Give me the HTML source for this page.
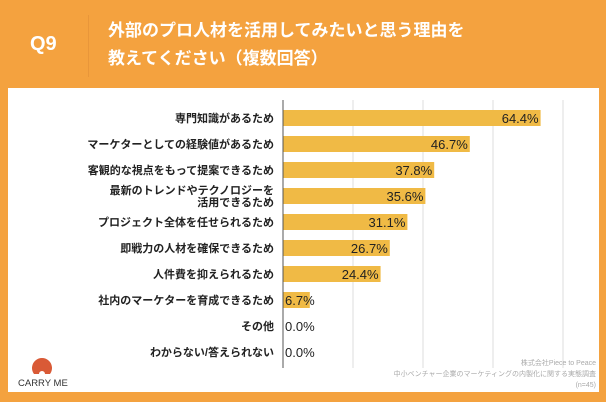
<!DOCTYPE html>
<html><head><meta charset="utf-8"><style>
body{margin:0;width:606px;height:402px;background:#F4A23F;position:relative;overflow:hidden;font-family:"Liberation Sans","Noto Sans CJK JP",sans-serif}
.q{position:absolute;left:30px;top:33px;color:#fff;font-size:20px;font-weight:bold}
.div{position:absolute;left:88px;top:15px;width:1px;height:62px;background:#E8963A}
.t{position:absolute;left:108px;top:17px;color:#fff;font-size:17px;font-weight:bold;line-height:28px}
.panel{position:absolute;left:8px;top:88px;width:591px;height:304px;background:#fff}
</style></head><body>
<div class="q">Q9</div>
<div class="div"></div>
<div class="t">外部のプロ人材を活用してみたいと思う理由を<br>教えてください（複数回答）</div>
<div class="panel"></div>
<svg id="c" width="606" height="402" style="position:absolute;left:0;top:0"></svg>
<script>
const categories=["専門知識があるため","マーケターとしての経験値があるため","客観的な視点をもって提案できるため","最新のトレンドやテクノロジーを|活用できるため","プロジェクト全体を任せられるため","即戦力の人材を確保できるため","人件費を抑えられるため","社内のマーケターを育成できるため","その他","わからない/答えられない"];
const values=[64.4,46.7,37.8,35.6,31.1,26.7,24.4,6.7,0.0,0.0];
const ticks=[17.5,35,52.5,70];
const svg=document.getElementById('c');const NS='http://www.w3.org/2000/svg';
const x0=283,xMax=70,w=280;const x=v=>x0+v/xMax*w;const y=i=>118+i*26;
function mk(t,a){const e=document.createElementNS(NS,t);for(const k in a)e.setAttribute(k,a[k]);svg.appendChild(e);return e;}
ticks.forEach(t=>{const l=mk('line',{x1:x(t),x2:x(t),y1:100,y2:368,stroke:'#ddd','stroke-width':1});

});
categories.forEach((c,i)=>{
const r=mk('rect',{x:x0,y:y(i)-8,width:x(values[i])-x0,height:16,fill:'#F0BA45'});


const parts=c.split('|');
const tx=mk('text',{x:274,y:y(i)+4-(parts.length-1)*6,'text-anchor':'end','font-size':'11','font-weight':'bold',fill:'#222'});


parts.forEach((p,j)=>{const s=document.createElementNS(NS,'tspan');s.setAttribute('x',274);if(j)s.setAttribute('dy','12');s.textContent=p;tx.appendChild(s);});
const big=values[i]>15;
const v=mk('text',{x:big?x(values[i])-2:x0+2,y:y(i)+5,'text-anchor':big?'end':'start','font-size':'13',fill:'#222'});
v.textContent=values[i].toFixed(1)+'%';


});
const ax=mk('line',{x1:x0,x2:x0,y1:100,y2:368,stroke:'#555','stroke-width':1});


</script>
<svg width="24" height="20" style="position:absolute;left:30px;top:356px"><path d="M4 18 A10 10 0 1 1 20 18 L15 18 A3 3 0 1 0 9 18 Z" fill="#D95A36"/></svg>
<div style="position:absolute;left:18px;top:378px;font-size:9.5px;color:#333">CARRY ME</div>
<div style="position:absolute;right:10px;top:358px;font-size:7px;color:#aaa;text-align:right;line-height:11px">株式会社Piece to Peace<br>中小ベンチャー企業のマーケティングの内製化に関する実態調査<br>(n=45)</div>
</body></html>
